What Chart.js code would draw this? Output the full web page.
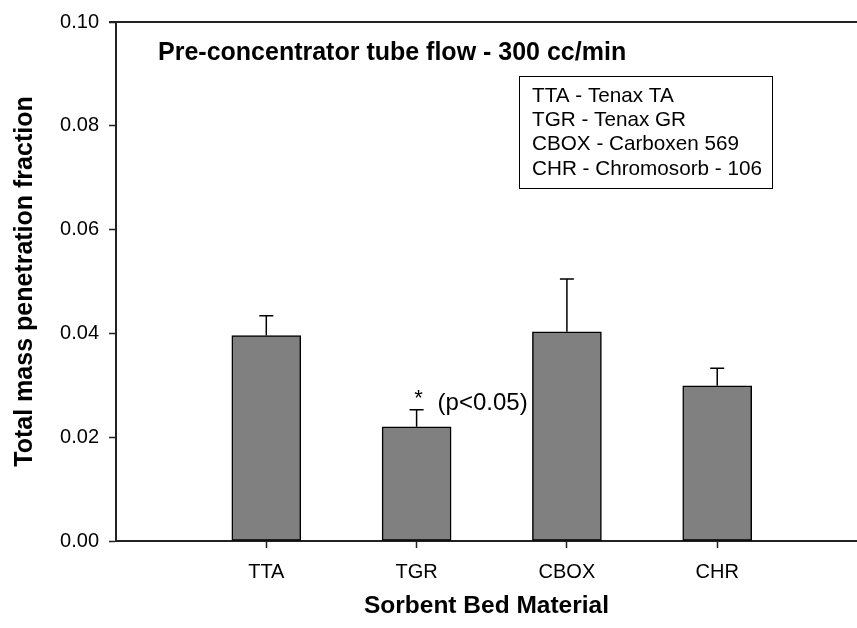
<!DOCTYPE html>
<html>
<head>
<meta charset="utf-8">
<script src="https://cdn.jsdelivr.net/npm/chart.js@4/dist/chart.umd.min.js"></script>
<style>
  html, body { margin: 0; padding: 0; background: #fff; overflow: hidden; }
  #wrap { width: 857px; height: 628px; }
</style>
</head>
<body>
<div id="wrap"><canvas id="sorbent_chart"></canvas></div>
<script>
let categories = ['TTA', 'TGR', 'CBOX', 'CHR'];
let positions = [1, 2, 3, 4];
let mean_fraction = [0.0396, 0.0220, 0.0403, 0.0299];
let std_error = [0.0038, 0.0033, 0.0102, 0.0034];
let y_ticks = [0, 0.02, 0.04, 0.06, 0.08, 0.10];

let chart_title = 'Pre-concentrator tube flow - 300 cc/min';
let legend_lines = ['TTA - Tenax TA', 'TGR - Tenax GR', 'CBOX - Carboxen 569', 'CHR - Chromosorb - 106'];
let sig_note = '(p<0.05)';

const FONT = "'Liberation Sans', Arial, sans-serif";
const AXIS_COLOR = '#222';

// error bars, frame top line and the text notes drawn on top of the bars
let extrasPlugin = {
  id: 'extras',
  afterDatasetsDraw(chart) {
    let ctx = chart.ctx;
    let xs = chart.scales.x, ys = chart.scales.y;
    let area = chart.chartArea;

    ctx.save();
    ctx.strokeStyle = '#000';
    ctx.lineWidth = 1.5;
    for (let i = 0; i < mean_fraction.length; i++) {
      let x = xs.getPixelForValue(positions[i]);
      let y0 = ys.getPixelForValue(mean_fraction[i]);
      let y1 = ys.getPixelForValue(mean_fraction[i] + std_error[i]);
      ctx.beginPath();
      ctx.moveTo(x, y0);
      ctx.lineTo(x, y1);
      ctx.moveTo(x - 7, y1);
      ctx.lineTo(x + 7, y1);
      ctx.stroke();
    }

    // top frame line
    ctx.strokeStyle = AXIS_COLOR;
    ctx.lineWidth = 2;
    ctx.beginPath();
    ctx.moveTo(area.left - 7, area.top);
    ctx.lineTo(area.right, area.top);
    ctx.stroke();

    // title inside plot
    ctx.fillStyle = '#000';
    ctx.textBaseline = 'middle';
    ctx.textAlign = 'left';
    ctx.font = 'bold 25px ' + FONT;
    ctx.fillText(chart_title, area.left + 42, area.top + 31);

    // legend box
    let bx = 519, by = 76, bw = 253, bh = 112;
    ctx.lineWidth = 1;
    ctx.strokeStyle = '#000';
    ctx.strokeRect(bx + 0.5, by + 0.5, bw, bh);
    ctx.font = '20.7px ' + FONT;
    for (let i = 0; i < legend_lines.length; i++) {
      ctx.fillText(legend_lines[i], bx + 13, by + 20 + i * 24.3);
    }

    // significance note above TGR
    let tx = xs.getPixelForValue(positions[1]);
    let ty = ys.getPixelForValue(mean_fraction[1] + std_error[1]);
    ctx.font = '22px ' + FONT;
    ctx.textAlign = 'center';
    ctx.fillText('*', tx + 2, ty - 11);
    ctx.textAlign = 'left';
    ctx.font = '24px ' + FONT;
    ctx.fillText(sig_note, tx + 21, ty - 6);
    ctx.restore();
  }
};

let ctx = document.getElementById('sorbent_chart').getContext('2d');
let myChart = new Chart(ctx, {
  type: 'bar',
  data: {
    datasets: [{
      data: positions.map((p, i) => ({ x: p, y: mean_fraction[i] })),
      backgroundColor: '#808080',
      borderColor: '#000',
      borderWidth: 1.5,
      borderSkipped: false,
      barThickness: 69
    }]
  },
  plugins: [extrasPlugin],
  options: {
    responsive: true,
    maintainAspectRatio: false,
    animation: false,
    layout: { padding: { top: 16, right: 0, left: 0, bottom: 0 } },
    plugins: {
      legend: { display: false },
      tooltip: { enabled: false },
      title: { display: false }
    },
    scales: {
      x: {
        type: 'linear',
        offset: false,
        min: 0,
        max: 4.93,
        afterBuildTicks: function(scale) {
          scale.ticks = positions.map(p => ({ value: p }));
        },
        afterFit: function(scale) { scale.height = 87; },
        ticks: {
          callback: function(v) { return categories[positions.indexOf(v)]; },
          color: '#000',
          font: { family: FONT, size: 20 },
          padding: 12,
          maxRotation: 0,
          autoSkip: false
        },
        grid: { offset: false, drawOnChartArea: false, drawTicks: true, tickLength: 7, tickColor: AXIS_COLOR, tickWidth: 1.5 },
        border: { display: true, color: AXIS_COLOR, width: 2 },
        title: {
          display: true,
          text: 'Sorbent Bed Material',
          color: '#000',
          font: { family: FONT, size: 24.5, weight: 'bold' },
          padding: { top: 0, bottom: 7 }
        }
      },
      y: {
        min: 0,
        max: 0.10,
        afterBuildTicks: function(scale) {
          scale.ticks = y_ticks.map(v => ({ value: v }));
        },
        afterFit: function(scale) { scale.width = 116; },
        ticks: {
          callback: function(v) { return v.toFixed(2); },
          color: '#000',
          font: { family: FONT, size: 20 },
          padding: 10
        },
        grid: { drawOnChartArea: false, drawTicks: true, tickLength: 7, tickColor: AXIS_COLOR, tickWidth: 1.5 },
        border: { display: true, color: AXIS_COLOR, width: 2 },
        title: {
          display: true,
          text: 'Total mass penetration fraction',
          color: '#000',
          font: { family: FONT, size: 25, weight: 'bold' },
          padding: { top: 10, bottom: 0 }
        }
      }
    }
  }
});
</script>
</body>
</html>
